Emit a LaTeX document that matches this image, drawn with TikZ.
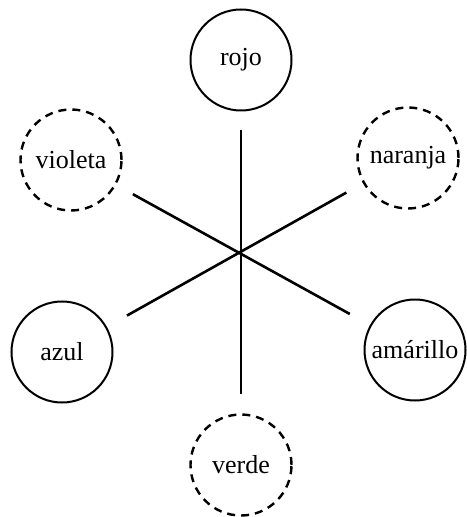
\documentclass[tikz,border=0pt]{standalone}
\usepackage{fontspec}
\setmainfont{Liberation Serif}
\usetikzlibrary{calc}
\tikzset{
  colour node/.style={circle,draw,line width=1pt,inner sep=0pt,minimum size=50.5pt,font=\fontsize{13}{15}\selectfont},
  mixed node/.style={colour node,line width=1.2pt,dash pattern=on 4pt off 3pt},
  spoke line/.style={line width=1.3pt,shorten <=9.5pt,shorten >=9.5pt},
}

\begin{document}
\begin{tikzpicture}[x=0.5pt,y=-0.5pt]
\useasboundingbox (0,0) rectangle (466,517);
% primary colours solid, secondary dashed
\node[colour node] (rojo) at (241,60) {rojo};
\node[mixed node] (violeta) at (71,160) {violeta};
\node[mixed node] (naranja) at (408,158) {naranja};
\node[colour node] (azul) at (62,352) {azul};
\node[colour node] (amarillo) at (415,350) {am\'arillo};
\node[mixed node] (verde) at (241,465) {verde};
\draw[spoke line,line width=1pt] (rojo) -- (verde);
\draw[spoke line,shorten >=11.5pt] (violeta) -- (amarillo);
\draw[spoke line,shorten >=11.5pt] (naranja) -- (azul);
\end{tikzpicture}
\end{document}
